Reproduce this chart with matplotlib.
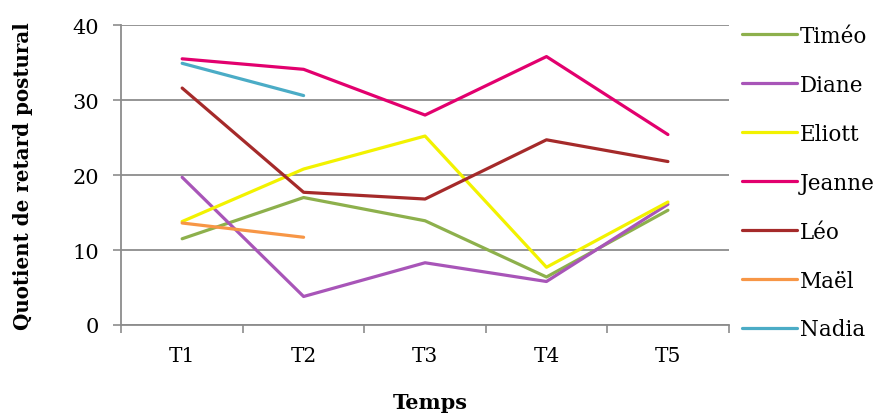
import matplotlib
matplotlib.use("Agg")
import matplotlib.pyplot as plt
from matplotlib.ticker import FixedLocator

plt.rcParams["font.family"] = ["DejaVu Serif"]

categories = ["T1", "T2", "T3", "T4", "T5"]
names = ["Timéo", "Diane", "Eliott", "Jeanne", "Léo", "Maël", "Nadia"]

timeo = [11.5, 17.0, 13.9, 6.4, 15.3]
diane = [19.7, 3.8, 8.3, 5.8, 16.1]
eliott = [13.8, 20.8, 25.2, 7.7, 16.4]
jeanne = [35.5, 34.1, 28.0, 35.8, 25.4]
leo = [31.6, 17.7, 16.8, 24.7, 21.8]
mael = [13.6, 11.7]
nadia = [34.9, 30.6]

series = [timeo, diane, eliott, jeanne, leo, mael, nadia]
colors = ["#8db04c", "#a855b8", "#f2f200", "#e2006e", "#a52a2a", "#f79646", "#4bacc6"]

GRID = "#8c8c8c"

fig = plt.figure(figsize=(8.8, 4.14), dpi=100)
ax = fig.add_axes([0.138, 0.2126, 0.690, 0.7244])

x = list(range(1, len(categories) + 1))
for vals, name, col in zip(series, names, colors):
    ax.plot(x[:len(vals)], vals, color=col, lw=2.3, label=name,
            solid_capstyle="round", zorder=3)

ax.set_xlim(0.5, 5.5)
ax.set_ylim(0, 40)
ax.set_yticks([0, 10, 20, 30, 40])
ax.set_xticks(x)
ax.set_xticklabels(categories)
ax.xaxis.set_minor_locator(FixedLocator([0.5, 1.5, 2.5, 3.5, 4.5, 5.5]))

ax.tick_params(axis="x", which="major", length=0, pad=15, labelsize=14.5)
ax.tick_params(axis="x", which="minor", length=6, width=1.2, color=GRID, direction="out")
ax.tick_params(axis="y", length=6, width=1.2, color=GRID, pad=10, labelsize=15)

ax.grid(axis="y", color=GRID, lw=1.3, zorder=0)
for side in ("top", "right"):
    ax.spines[side].set_visible(False)
for side in ("left", "bottom"):
    ax.spines[side].set_color(GRID)
    ax.spines[side].set_linewidth(1.3)

ax.set_ylabel("Quotient de retard postural", fontsize=14.3, fontweight="bold")
ax.yaxis.set_label_coords(-0.145, 0.5)
ax.set_xlabel("Temps", fontsize=15, fontweight="bold")
ax.xaxis.set_label_coords(0.508, -0.223)

fig.legend(loc="upper left", bbox_to_anchor=(0.8334, 0.958), frameon=False,
           fontsize=15.5, handlelength=2.56, handletextpad=0.14,
           labelspacing=1.25, borderaxespad=0)

fig.savefig("out.png", dpi=100, facecolor="white")
